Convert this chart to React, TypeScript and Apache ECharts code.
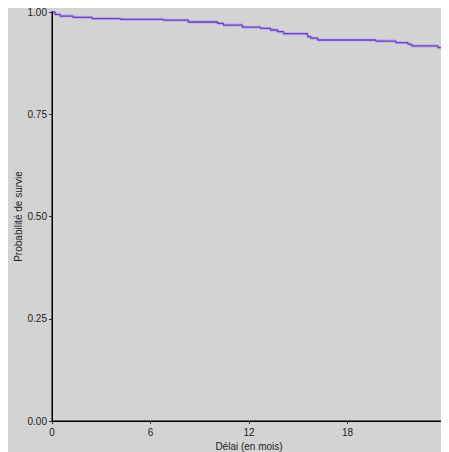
import React, { useEffect, useRef } from "react";
import * as echarts from "echarts";

const times = [0, 0.18, 0.49, 1.28, 2.44, 4.15, 6.78, 8.31, 10.08, 10.44, 11.6, 12.7, 13.31, 13.74, 14.11, 15.57, 15.76, 16.18, 19.73, 20.95, 21.68, 21.92, 23.51, 23.76, 24.0];
const survival = [1.0, 0.994, 0.99, 0.987, 0.984, 0.982, 0.98, 0.9755, 0.972, 0.968, 0.963, 0.96, 0.956, 0.952, 0.947, 0.94, 0.936, 0.9315, 0.929, 0.925, 0.921, 0.917, 0.913, 0.9095, 0.905];
const xTicks = [0, 6, 12, 18, 24];
const yTicks = [0, 0.25, 0.5, 0.75, 1.0];
const xTitle = "Délai (en mois)";
const yTitle = "Probabilité de survie";

export default function App() {
  const ref = useRef<HTMLDivElement>(null);
  useEffect(() => {
    document.documentElement.style.overflow = "hidden";
    const chart = echarts.init(ref.current!, null, { renderer: "svg" });
    const font = "'Liberation Sans', Arial, sans-serif";
    const data = times.map((t, i) => [t, survival[i]]);
    chart.setOption({
      animation: false,
      backgroundColor: "#d3d3d3",
      grid: { left: 44, right: 3, top: 4, bottom: 31, containLabel: false, outerBoundsMode: "none" },
      xAxis: [
        {
          type: "value",
          min: 0,
          max: 24,
          interval: 6,
          position: "bottom",
          name: xTitle,
          nameLocation: "middle",
          nameGap: 20,
          nameMoveOverlap: false,
          nameTextStyle: { fontFamily: font, fontSize: 10, color: "#222" },
          axisLine: { show: true, onZero: false, lineStyle: { color: "#000", width: 1 } },
          axisTick: { show: true, length: 3, lineStyle: { color: "#333" } },
          axisLabel: {
            fontFamily: font,
            fontSize: 10,
            color: "#222",
            margin: 6,
            formatter: (v: number) => (xTicks.includes(v) ? String(v) : ""),
          },
          splitLine: { show: false },
          z: 5,
        },
        {
          type: "value",
          min: 0,
          max: 24,
          position: "top",
          axisLine: { show: true, lineStyle: { color: "#666", width: 2 } },
          axisTick: { show: false },
          axisLabel: { show: false },
          splitLine: { show: false },
        },
      ],
      yAxis: [
        {
          type: "value",
          min: 0,
          max: 1,
          interval: 0.25,
          position: "left",
          name: yTitle,
          nameLocation: "middle",
          nameGap: 29,
          nameMoveOverlap: false,
          nameTextStyle: { fontFamily: font, fontSize: 10, color: "#222" },
          axisLine: { show: true, onZero: false, lineStyle: { color: "#000", width: 1 } },
          axisTick: { show: true, length: 3, lineStyle: { color: "#333" } },
          axisLabel: {
            fontFamily: font,
            fontSize: 10,
            color: "#222",
            margin: 5,
            formatter: (v: number) => (yTicks.some((t) => Math.abs(t - v) < 1e-9) ? v.toFixed(2) : ""),
          },
          splitLine: { show: false },
          z: 5,
        },
        {
          type: "value",
          min: 0,
          max: 1,
          position: "right",
          axisLine: { show: true, lineStyle: { color: "#666", width: 2 } },
          axisTick: { show: false },
          axisLabel: { show: false },
          splitLine: { show: false },
        },
      ],
      series: [
        {
          type: "line",
          step: "end",
          data,
          showSymbol: false,
          symbol: "none",
          lineStyle: { color: "#9d86df", width: 3, opacity: 0.5 },
          silent: true,
        },
        {
          type: "line",
          step: "end",
          data,
          showSymbol: false,
          symbol: "none",
          lineStyle: { color: "#6b3ddb", width: 1.3 },
          silent: true,
        },
      ],
    });
    return () => chart.dispose();
  }, []);
  return <div ref={ref} style={{ width: 441, height: 444 }} />;
}
